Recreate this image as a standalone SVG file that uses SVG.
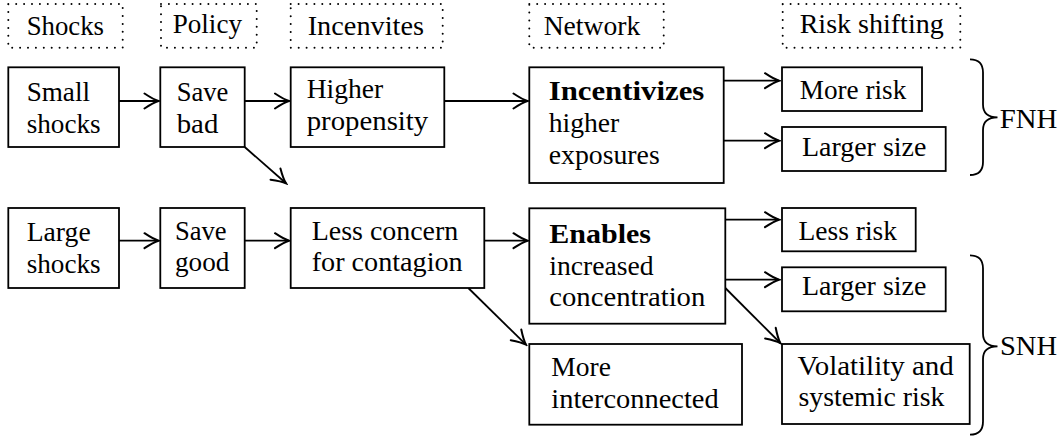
<svg xmlns="http://www.w3.org/2000/svg" width="1063" height="436" viewBox="0 0 1063 436">
<style>
.box{fill:#fff;stroke:#000;stroke-width:1.8}
.hdr{fill:none;stroke:#000;stroke-width:2;stroke-dasharray:0 7.9;stroke-linecap:round}
.t{font-size:27px;fill:#000}
.b{font-weight:bold}
.c{fill:none;stroke:#000;stroke-width:1.8}
.br{fill:none;stroke:#000;stroke-width:1.8}
</style>
<defs>
<marker id="arr" markerUnits="userSpaceOnUse" viewBox="-16 -9 18 18" refX="0" refY="0" markerWidth="18" markerHeight="18" orient="auto">
<path d="M-14,-7.5 Q-5,-1.5 0,0 Q-5,1.5 -14,7.5" fill="none" stroke="#000" stroke-width="2" stroke-linecap="round"/>
</marker>
</defs>
<rect width="1063" height="436" fill="#fff"/>
<g id="h-shocks"><rect class="hdr" x="8.3" y="4" width="114.4" height="43.7"/><text class="t" font-family="Liberation Serif" x="26.7" y="35" textLength="77.3" lengthAdjust="spacingAndGlyphs">Shocks</text></g>
<g id="h-policy"><rect class="hdr" x="161" y="4" width="95.7" height="43.7"/><text class="t" font-family="Liberation Serif" x="172.7" y="33.3" textLength="69.3" lengthAdjust="spacingAndGlyphs">Policy</text></g>
<g id="h-incentives"><rect class="hdr" x="290.7" y="4" width="152" height="43.7"/><text class="t" font-family="Liberation Serif" x="307.7" y="35" textLength="116.3" lengthAdjust="spacingAndGlyphs">Incenvites</text></g>
<g id="h-network"><rect class="hdr" x="529.3" y="4" width="134.4" height="43.7"/><text class="t" font-family="Liberation Serif" x="543.7" y="35" textLength="96.6" lengthAdjust="spacingAndGlyphs">Network</text></g>
<g id="h-risk"><rect class="hdr" x="782.7" y="4" width="177.6" height="43.7"/><text class="t" font-family="Liberation Serif" x="799.7" y="33.3" textLength="144" lengthAdjust="spacingAndGlyphs">Risk shifting</text></g>
<g id="connectors">
<line class="c" x1="119" y1="101" x2="158.5" y2="101" marker-end="url(#arr)"/>
<line class="c" x1="244.7" y1="101" x2="289" y2="101" marker-end="url(#arr)"/>
<line class="c" x1="444.3" y1="101" x2="527.5" y2="101" marker-end="url(#arr)"/>
<line class="c" x1="244.7" y1="147" x2="286" y2="183.3" marker-end="url(#arr)"/>
<line class="c" x1="723.7" y1="80.7" x2="779" y2="80.7" marker-end="url(#arr)"/>
<line class="c" x1="723.7" y1="140.7" x2="779" y2="140.7" marker-end="url(#arr)"/>
<line class="c" x1="119" y1="240.7" x2="158.5" y2="240.7" marker-end="url(#arr)"/>
<line class="c" x1="244.7" y1="240.7" x2="289" y2="240.7" marker-end="url(#arr)"/>
<line class="c" x1="484.3" y1="240.7" x2="527.5" y2="240.7" marker-end="url(#arr)"/>
<line class="c" x1="468.3" y1="288" x2="526" y2="344.7" marker-end="url(#arr)"/>
<line class="c" x1="725.3" y1="219.7" x2="779" y2="219.7" marker-end="url(#arr)"/>
<line class="c" x1="725.3" y1="279.7" x2="779" y2="279.7" marker-end="url(#arr)"/>
<line class="c" x1="725.3" y1="288" x2="780.3" y2="343" marker-end="url(#arr)"/>
</g>
<g id="n-small"><rect class="box" x="8.3" y="67.3" width="110.7" height="79.7"/><text class="t" font-family="Liberation Serif" x="26.7" y="101" textLength="63.3" lengthAdjust="spacingAndGlyphs">Small</text><text class="t" font-family="Liberation Serif" x="26.7" y="133" textLength="74" lengthAdjust="spacingAndGlyphs">shocks</text></g>
<g id="n-savebad"><rect class="box" x="160.3" y="67.3" width="84.4" height="79.7"/><text class="t" font-family="Liberation Serif" x="176.7" y="101" textLength="51.6" lengthAdjust="spacingAndGlyphs">Save</text><text class="t" font-family="Liberation Serif" x="176.7" y="133" textLength="41.6" lengthAdjust="spacingAndGlyphs">bad</text></g>
<g id="n-higher"><rect class="box" x="290.7" y="67.3" width="153.6" height="79.7"/><text class="t" font-family="Liberation Serif" x="306.7" y="98.3" textLength="76.6" lengthAdjust="spacingAndGlyphs">Higher</text><text class="t" font-family="Liberation Serif" x="306.7" y="130" textLength="121.6" lengthAdjust="spacingAndGlyphs">propensity</text></g>
<g id="n-incentivizes"><rect class="box" x="529.3" y="67.3" width="194.4" height="115.7"/><text class="t b" font-family="Liberation Serif" x="548.7" y="100" textLength="155.6" lengthAdjust="spacingAndGlyphs">Incentivizes</text><text class="t" font-family="Liberation Serif" x="548.7" y="132.3" textLength="70.6" lengthAdjust="spacingAndGlyphs">higher</text><text class="t" font-family="Liberation Serif" x="548.7" y="164.3" textLength="111" lengthAdjust="spacingAndGlyphs">exposures</text></g>
<g id="n-morerisk"><rect class="box" x="782" y="67.3" width="140" height="43.7"/><text class="t" font-family="Liberation Serif" x="799.7" y="99" textLength="106.6" lengthAdjust="spacingAndGlyphs">More risk</text></g>
<g id="n-larger1"><rect class="box" x="782" y="127" width="163.7" height="44"/><text class="t" font-family="Liberation Serif" x="802" y="155.7" textLength="124.3" lengthAdjust="spacingAndGlyphs">Larger size</text></g>
<g id="n-large"><rect class="box" x="8.3" y="208" width="110.7" height="80"/><text class="t" font-family="Liberation Serif" x="26.7" y="241.3" textLength="64" lengthAdjust="spacingAndGlyphs">Large</text><text class="t" font-family="Liberation Serif" x="26.7" y="272.8" textLength="74" lengthAdjust="spacingAndGlyphs">shocks</text></g>
<g id="n-savegood"><rect class="box" x="160.3" y="208" width="84.4" height="80"/><text class="t" font-family="Liberation Serif" x="175" y="240" textLength="51.6" lengthAdjust="spacingAndGlyphs">Save</text><text class="t" font-family="Liberation Serif" x="175" y="271" textLength="54.3" lengthAdjust="spacingAndGlyphs">good</text></g>
<g id="n-lessconcern"><rect class="box" x="290.7" y="208" width="193.6" height="80"/><text class="t" font-family="Liberation Serif" x="311.7" y="240" textLength="146.6" lengthAdjust="spacingAndGlyphs">Less concern</text><text class="t" font-family="Liberation Serif" x="311.7" y="271" textLength="151" lengthAdjust="spacingAndGlyphs">for contagion</text></g>
<g id="n-enables"><rect class="box" x="529.3" y="208.3" width="196" height="115.4"/><text class="t b" font-family="Liberation Serif" x="549.3" y="243" textLength="101.7" lengthAdjust="spacingAndGlyphs">Enables</text><text class="t" font-family="Liberation Serif" x="549.3" y="274.7" textLength="104.4" lengthAdjust="spacingAndGlyphs">increased</text><text class="t" font-family="Liberation Serif" x="549.3" y="306.3" textLength="156" lengthAdjust="spacingAndGlyphs">concentration</text></g>
<g id="n-lessrisk"><rect class="box" x="782" y="208" width="133.7" height="43.3"/><text class="t" font-family="Liberation Serif" x="798.5" y="239.7" textLength="98.5" lengthAdjust="spacingAndGlyphs">Less risk</text></g>
<g id="n-larger2"><rect class="box" x="782" y="267.3" width="163.7" height="44"/><text class="t" font-family="Liberation Serif" x="802" y="295.3" textLength="124.3" lengthAdjust="spacingAndGlyphs">Larger size</text></g>
<g id="n-interconnected"><rect class="box" x="529.3" y="344" width="212.7" height="80.7"/><text class="t" font-family="Liberation Serif" x="551.3" y="376.3" textLength="59.7" lengthAdjust="spacingAndGlyphs">More</text><text class="t" font-family="Liberation Serif" x="551.3" y="408" textLength="167.4" lengthAdjust="spacingAndGlyphs">interconnected</text></g>
<g id="n-volatility"><rect class="box" x="782" y="344" width="187.7" height="80"/><text class="t" font-family="Liberation Serif" x="797.5" y="374.7" textLength="156.2" lengthAdjust="spacingAndGlyphs">Volatility and</text><text class="t" font-family="Liberation Serif" x="798.5" y="406.3" textLength="146" lengthAdjust="spacingAndGlyphs">systemic risk</text></g>
<g id="b-fnh"><path class="br" d="M970,59.3 Q983,59.3 983,72.5 L983,104.5 Q983,117.3 997.5,117.3 Q983,117.3 983,130 L983,162 Q983,175 970,175"/><text class="t" font-family="Liberation Serif" x="999.7" y="128.3" textLength="57.6" lengthAdjust="spacingAndGlyphs">FNH</text></g>
<g id="b-snh"><path class="br" d="M970,255.3 Q983,255.3 983,268.5 L983,333.5 Q983,346.3 997.5,346.3 Q983,346.3 983,359 L983,421.5 Q983,434.7 970,434.7"/><text class="t" font-family="Liberation Serif" x="1000" y="354.7" textLength="57" lengthAdjust="spacingAndGlyphs">SNH</text></g>
</svg>
